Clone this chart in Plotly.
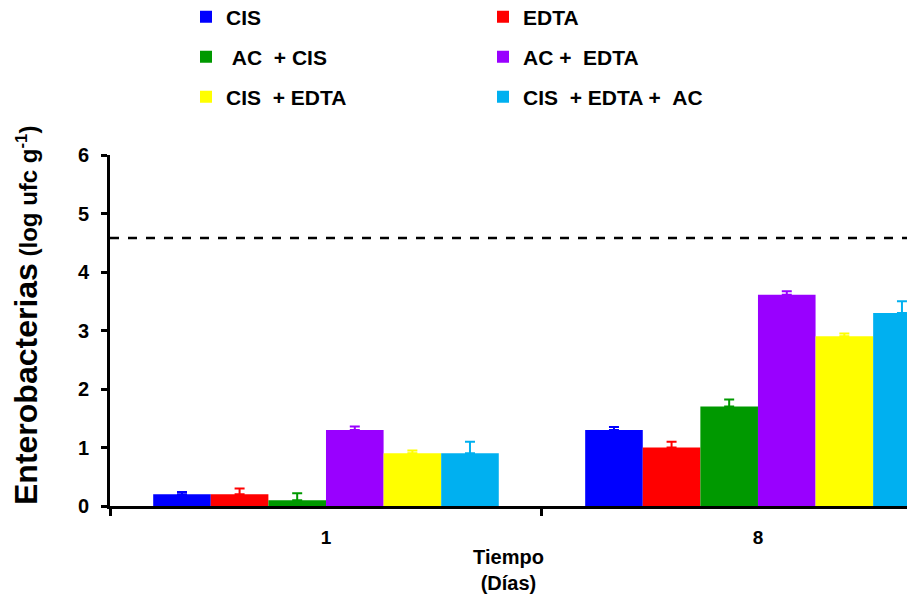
import plotly.graph_objects as go

days = ["1", "8"]
series_names = ["CIS", "EDTA", "\u00a0AC\u00a0\u00a0+ CIS", "AC +\u00a0\u00a0EDTA",
                "CIS\u00a0\u00a0+ EDTA", "CIS\u00a0\u00a0+ EDTA +\u00a0\u00a0AC"]
colors = ["#0000FF", "#FF0000", "#009900", "#9900FF", "#FFFF00", "#00B0F0"]
values = [
    [0.2, 1.3],
    [0.2, 1.0],
    [0.1, 1.7],
    [1.3, 3.61],
    [0.9, 2.9],
    [0.9, 3.3],
]
errors = [
    [0.04, 0.05],
    [0.1, 0.1],
    [0.12, 0.12],
    [0.06, 0.06],
    [0.05, 0.05],
    [0.2, 0.2],
]
limit_value = 4.58
y_ticks = [0, 1, 2, 3, 4, 5, 6]
y_title = "<span style='font-size:32px'>Enterobacterias</span> (log ufc g<sup>-1</sup>)"

FONT = "Liberation Sans, Arial, sans-serif"
legend_ids = ["legend", "legend", "legend2", "legend2", "legend3", "legend3"]

fig = go.Figure()
for name, col, v, e, lg in zip(series_names, colors, values, errors, legend_ids):
    fig.add_trace(go.Bar(
        x=days, y=v, name=name, marker=dict(color=col, line=dict(width=0)),
        error_y=dict(type="data", array=e, arrayminus=[0] * len(e), symmetric=False,
                     color=col, thickness=2, width=5),
        legend=lg,
    ))

fig.add_shape(type="line", xref="paper", x0=0, x1=1, yref="y", y0=limit_value, y1=limit_value,
              line=dict(color="black", width=2.5, dash="dash"))

fig.add_annotation(text=y_title, textangle=-90, xref="paper", yref="paper",
                   x=(26 - 110) / 797, y=(506 - 316) / 351, xanchor="center", yanchor="middle",
                   showarrow=False, font=dict(family=FONT, size=24, weight="bold", color="black"))

leg_common = dict(orientation="h", xref="container", yref="container", xanchor="left",
                  yanchor="middle", entrywidth=252, entrywidthmode="pixels",
                  font=dict(family=FONT, size=21, color="black", weight="bold"),
                  bgcolor="rgba(0,0,0,0)", itemclick=False)
fig.update_layout(
    width=907, height=594,
    margin=dict(l=110, r=0, t=155, b=88),
    paper_bgcolor="white", plot_bgcolor="white",
    barmode="group", bargap=0.2, bargroupgap=0,
    showlegend=True,
    legend=dict(x=186 / 907, y=1 - 17 / 594, **leg_common),
    legend2=dict(x=186 / 907, y=1 - 57 / 594, **leg_common),
    legend3=dict(x=186 / 907, y=1 - 97 / 594, **leg_common),
    font=dict(family=FONT, color="black"),
    xaxis=dict(
        type="category", range=[-0.5, 1.345], tickson="boundaries",
        ticks="outside", ticklen=7, tickwidth=3, tickcolor="black",
        showline=True, linecolor="black", linewidth=3, showgrid=False, zeroline=False,
        tickfont=dict(family=FONT, size=19, weight="bold"), ticklabelstandoff=12,
        title=dict(text="Tiempo<br>(Días)", font=dict(family=FONT, size=20, weight="bold"), standoff=4),
    ),
    yaxis=dict(
        range=[0, 6], tickvals=y_ticks, ticks="outside", ticklen=6, tickwidth=3, tickcolor="black",
        showline=True, linecolor="black", linewidth=3, showgrid=False, zeroline=False,
        tickfont=dict(family=FONT, size=20, weight="bold"), ticklabelstandoff=8,
    ),
)

fig.write_html("out.html")
